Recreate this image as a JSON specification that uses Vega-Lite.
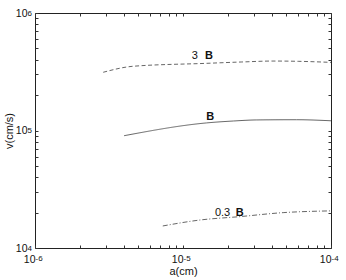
{
  "$schema": "https://vega.github.io/schema/vega-lite/v6.json",
  "width": 296,
  "height": 235,
  "autosize": {"type": "none"},
  "padding": {"left": 35, "top": 13, "right": 15, "bottom": 32},
  "background": "white",
  "config": {
    "font": "Liberation Sans",
    "view": {"stroke": "#222", "strokeWidth": 1},
    "axis": {
      "grid": false,
      "domain": false,
      "tickColor": "#333",
      "tickSize": -3,
      "labelColor": "#111",
      "titleColor": "#111",
      "labelFont": "Liberation Sans",
      "titleFont": "Liberation Sans",
      "labelFontSize": 10.5,
      "titleFontSize": 11,
      "titleFontWeight": "normal",
      "labelFlush": false,
      "labelOverlap": false
    }
  },
  "datasets": {
    "curves": [
      {"a": 2.89e-6, "v": 313000, "s": "3B"},
      {"a": 4.59e-6, "v": 352000, "s": "3B"},
      {"a": 1.45e-5, "v": 373000, "s": "3B"},
      {"a": 2.5e-5, "v": 383000, "s": "3B"},
      {"a": 4.06e-5, "v": 390000, "s": "3B"},
      {"a": 6.0e-5, "v": 388000, "s": "3B"},
      {"a": 1e-4, "v": 380000, "s": "3B"},
      {"a": 4.0e-6, "v": 90300, "s": "B"},
      {"a": 1.44e-5, "v": 116000, "s": "B"},
      {"a": 2.2e-5, "v": 120500, "s": "B"},
      {"a": 3.15e-5, "v": 123000, "s": "B"},
      {"a": 5.86e-5, "v": 123500, "s": "B"},
      {"a": 1e-4, "v": 121000, "s": "B"},
      {"a": 7.3e-6, "v": 15400, "s": "0.3B"},
      {"a": 1.3e-5, "v": 17300, "s": "0.3B"},
      {"a": 2.43e-5, "v": 18500, "s": "0.3B"},
      {"a": 4.75e-5, "v": 20000, "s": "0.3B"},
      {"a": 1e-4, "v": 20700, "s": "0.3B"}
    ],
    "labels": [
      {"a": 1.20e-5, "v": 430000, "t": "3", "p": "num"},
      {"a": 1.85e-5, "v": 19700, "t": "0.3", "p": "num"},
      {"a": 1.50e-5, "v": 430000, "t": "B", "p": "B"},
      {"a": 1.53e-5, "v": 131000, "t": "B", "p": "B"},
      {"a": 2.42e-5, "v": 19700, "t": "B", "p": "B"}
    ]
  },
  "layer": [
    {
      "data": {"name": "curves"},
      "mark": {"type": "line", "interpolate": "monotone", "strokeWidth": 0.9, "color": "#555"},
      "encoding": {
        "x": {
          "field": "a", "type": "quantitative",
          "scale": {"type": "log", "domain": [1e-6, 1e-4]},
          "axis": {
            "orient": "bottom",
            "title": "a(cm)",
            "titlePadding": 1,
            "labelPadding": 9,
            "labelAlign": "right",
            "labelDx": 1,
            "values": [1e-6, 2e-6, 3e-6, 4e-6, 5e-6, 6e-6, 7e-6, 8e-6, 9e-6, 1e-5, 2e-5, 3e-5, 4e-5, 5e-5, 6e-5, 7e-5, 8e-5, 9e-5, 1e-4],
            "labelExpr": "datum.value == 1e-6 || datum.value == 1e-5 || datum.value == 1e-4 ? '10' : ''"
          }
        },
        "y": {
          "field": "v", "type": "quantitative",
          "scale": {"type": "log", "domain": [10000, 1000000]},
          "axis": {
            "orient": "left",
            "title": "v(cm/s)",
            "titlePadding": 1,
            "labelPadding": 11,
            "values": [10000, 20000, 30000, 40000, 50000, 60000, 70000, 80000, 90000, 100000, 200000, 300000, 400000, 500000, 600000, 700000, 800000, 900000, 1000000],
            "labelExpr": "datum.value == 10000 || datum.value == 100000 || datum.value == 1000000 ? '10' : ''"
          }
        },
        "strokeDash": {
          "field": "s", "type": "nominal",
          "scale": {"domain": ["3B", "B", "0.3B"], "range": [[4, 2.5], [1, 0], [5, 2, 1, 2]]},
          "legend": null
        }
      }
    },
    {
      "data": {"name": "labels"},
      "transform": [{"filter": "datum.p == 'num'"}],
      "mark": {"type": "text", "fontSize": 11, "color": "#111", "align": "center", "baseline": "middle"},
      "encoding": {
        "x": {
          "field": "a", "type": "quantitative",
          "scale": {"type": "log", "domain": [1e-6, 1e-4]},
          "axis": {
            "orient": "top", "title": null, "labels": false,
            "values": [1e-6, 2e-6, 3e-6, 4e-6, 5e-6, 6e-6, 7e-6, 8e-6, 9e-6, 1e-5, 2e-5, 3e-5, 4e-5, 5e-5, 6e-5, 7e-5, 8e-5, 9e-5, 1e-4]
          }
        },
        "y": {
          "field": "v", "type": "quantitative",
          "scale": {"type": "log", "domain": [10000, 1000000]},
          "axis": {
            "orient": "right", "title": null, "labels": false,
            "values": [10000, 20000, 30000, 40000, 50000, 60000, 70000, 80000, 90000, 100000, 200000, 300000, 400000, 500000, 600000, 700000, 800000, 900000, 1000000]
          }
        },
        "text": {"field": "t"}
      }
    },
    {
      "data": {"name": "labels"},
      "transform": [{"filter": "datum.p == 'B'"}],
      "mark": {"type": "text", "fontSize": 11, "fontWeight": "bold", "color": "#111", "align": "center", "baseline": "middle"},
      "encoding": {
        "x": {
          "field": "a", "type": "quantitative",
          "scale": {"type": "log", "domain": [1e-6, 1e-4]},
          "axis": {
            "orient": "bottom", "title": null,
            "tickOpacity": 0,
            "labelFontSize": 8,
            "labelPadding": 9,
            "labelAlign": "left",
            "labelDx": 2,
            "labelDy": -5,
            "values": [1e-6, 1e-5, 1e-4],
            "labelExpr": "datum.value == 1e-6 ? '-6' : datum.value == 1e-5 ? '-5' : '-4'"
          }
        },
        "y": {
          "field": "v", "type": "quantitative",
          "scale": {"type": "log", "domain": [10000, 1000000]},
          "axis": {
            "orient": "left", "title": null,
            "tickOpacity": 0,
            "labelFontSize": 8,
            "labelPadding": 11,
            "labelAlign": "left",
            "labelDx": 0,
            "labelDy": -5,
            "values": [10000, 100000, 1000000],
            "labelExpr": "datum.value == 10000 ? '4' : datum.value == 100000 ? '5' : '6'"
          }
        },
        "text": {"field": "t"}
      }
    }
  ],
  "resolve": {"axis": {"x": "independent", "y": "independent"}}
}
